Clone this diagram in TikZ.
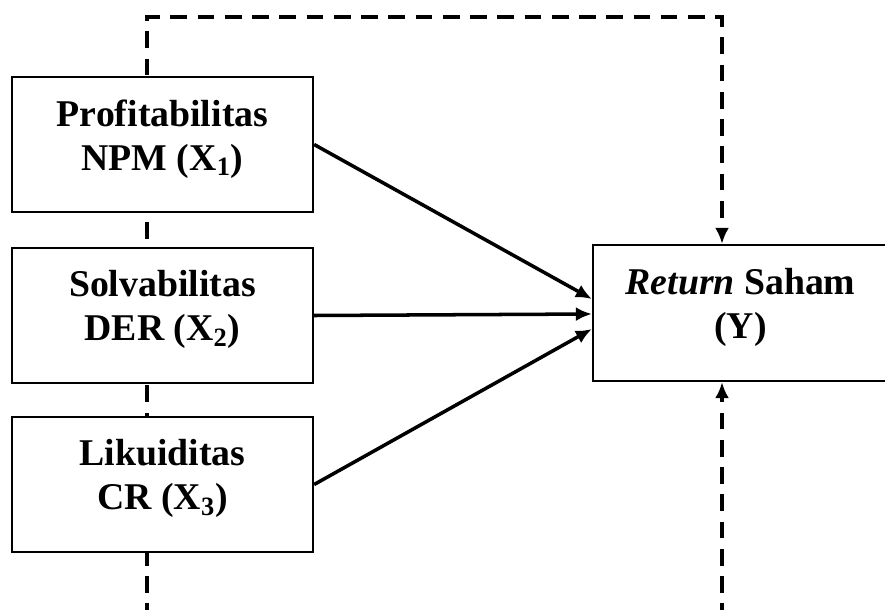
\documentclass[tikz,border=0pt]{standalone}
\usepackage{fontspec}
\setmainfont{Liberation Serif}
\usetikzlibrary{arrows.meta, backgrounds}

\newcommand{\lift}{\rule[-11pt]{0pt}{0pt}}

\tikzset{
	varbox/.style = {draw, line width = 1.3pt, fill = white, minimum width = 6.02cm,
		minimum height = 2.7cm, align = center, font = \fontsize{21.5}{25}\selectfont\bfseries},
	dashline/.style = {line width = 2.3pt, dash pattern = on 9.5pt off 6pt},
	effect/.style = {line width = 2pt}
}

\begin{document}
\begin{tikzpicture}[> = {Latex[length = 3.2mm, width = 2.8mm]}]

	\useasboundingbox (0, 0) rectangle (17.7, -12.18);

	% Variables

	\node [varbox] (npm) at (3.25, -2.89) {Profitabilitas\\NPM (X\textsubscript{1})\lift};
	\node [varbox] (der) at (3.25, -6.31) {Solvabilitas\\DER (X\textsubscript{2})\lift};
	\node [varbox] (cr) at (3.25, -9.69) {Likuiditas\\CR (X\textsubscript{3})\lift};
	\node [varbox, minimum width = 5.9cm, minimum height = 2.72cm] (ret) at (14.81, -6.26)
		{\textit{Return} Saham\\(Y)\lift};

	% Simultaneous effect (dashed, behind the boxes)

	\coordinate (botL) at (2.94, -12.4);
	\coordinate (topL) at (2.94, -0.34);
	\coordinate (topR) at (14.44, -0.34);
	\coordinate (botR) at (14.44, -12.4);

	\begin{scope}[on background layer]
		\draw [dashline, ->] (botL) -- (topL) -- (topR) -- (topR |- ret.north);
		\draw [dashline, ->] (botR) -- (botR |- ret.south);
	\end{scope}

	% Partial effects

	\draw [effect, ->] (npm.east) -- ([yshift = 0.28cm] ret.west);
	\draw [effect, ->] (der.east) -- ([yshift = -0.02cm] ret.west);
	\draw [effect, ->] (cr.east) -- ([yshift = -0.32cm] ret.west);

\end{tikzpicture}
\end{document}
